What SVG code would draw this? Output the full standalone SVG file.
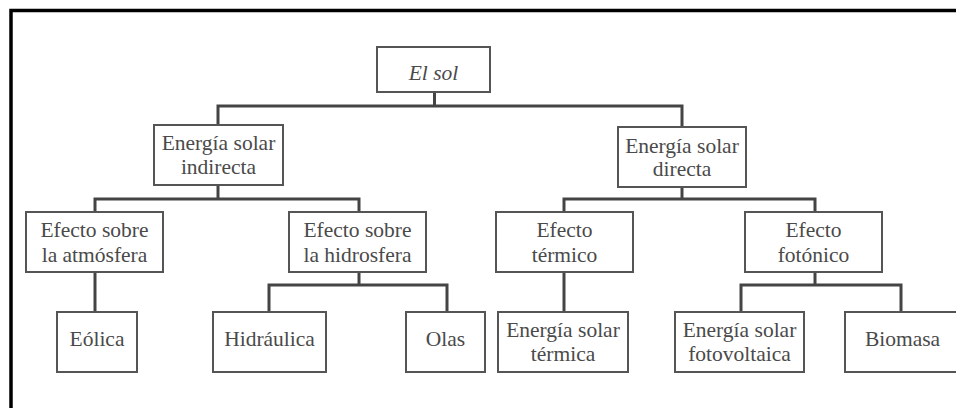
<svg xmlns="http://www.w3.org/2000/svg" width="956" height="408" viewBox="0 0 956 408">
<style>
.box{fill:#fff;stroke:#555;stroke-width:2}
.t{font-family:'Liberation Serif','Times New Roman',Tinos,'DejaVu Serif',serif;font-size:21.5px;fill:#4a4a4a;text-anchor:middle}
.c{fill:none;stroke:#444;stroke-width:3;stroke-linejoin:miter}
.frame{fill:none;stroke:#000;stroke-width:3.5}
</style>
<rect width="956" height="408" fill="#fff"/>
<path class="frame" d="M11 408 V10.5 H956"/>
<g id="connectors">
<path class="c" d="M434.5 92 V106"/>
<path class="c" d="M218 125 V106 H682 V127"/>
<path class="c" d="M218 185 V199"/>
<path class="c" d="M95 212 V199 H359 V212"/>
<path class="c" d="M682 187 V199"/>
<path class="c" d="M564 212 V199 H815 V212"/>
<path class="c" d="M95 272 V312"/>
<path class="c" d="M359 272 V285"/>
<path class="c" d="M269 312 V285 H447 V312"/>
<path class="c" d="M564 272 V312"/>
<path class="c" d="M815 272 V285"/>
<path class="c" d="M741 312 V285 H901 V312"/>
</g>
<g id="sol"><rect class="box" x="377" y="47" width="113" height="45"/><text class="t" x="433.5" y="80" font-style="italic">El sol</text></g>
<g id="indirecta"><rect class="box" x="154" y="125" width="129" height="60"/><text class="t" x="218.5" y="150">Energía solar</text><text class="t" x="218.5" y="174">indirecta</text></g>
<g id="directa"><rect class="box" x="618" y="127" width="128" height="60"/><text class="t" x="682" y="152.5">Energía solar</text><text class="t" x="682" y="176">directa</text></g>
<g id="atmosfera"><rect class="box" x="26" y="212" width="137" height="60"/><text class="t" x="94.5" y="237">Efecto sobre</text><text class="t" x="94.5" y="261.5">la atmósfera</text></g>
<g id="hidrosfera"><rect class="box" x="289" y="212" width="137" height="60"/><text class="t" x="357.5" y="237">Efecto sobre</text><text class="t" x="357.5" y="261.5">la hidrosfera</text></g>
<g id="termico"><rect class="box" x="496" y="212" width="137" height="60"/><text class="t" x="564.5" y="237">Efecto</text><text class="t" x="564.5" y="261.5">térmico</text></g>
<g id="fotonico"><rect class="box" x="745" y="212" width="137" height="60"/><text class="t" x="813.5" y="237">Efecto</text><text class="t" x="813.5" y="261.5">fotónico</text></g>
<g id="eolica"><rect class="box" x="57" y="312" width="80" height="60"/><text class="t" x="97" y="346">Eólica</text></g>
<g id="hidraulica"><rect class="box" x="213" y="312" width="113" height="60"/><text class="t" x="269.5" y="346">Hidráulica</text></g>
<g id="olas"><rect class="box" x="406" y="312" width="79" height="60"/><text class="t" x="445.5" y="346">Olas</text></g>
<g id="termica"><rect class="box" x="498" y="312" width="130" height="60"/><text class="t" x="563" y="337">Energía solar</text><text class="t" x="563" y="361">térmica</text></g>
<g id="fotovoltaica"><rect class="box" x="675" y="312" width="129" height="60"/><text class="t" x="739.5" y="337">Energía solar</text><text class="t" x="739.5" y="361">fotovoltaica</text></g>
<g id="biomasa"><rect class="box" x="845" y="312" width="116" height="60"/><text class="t" x="902.5" y="346">Biomasa</text></g>
</svg>
